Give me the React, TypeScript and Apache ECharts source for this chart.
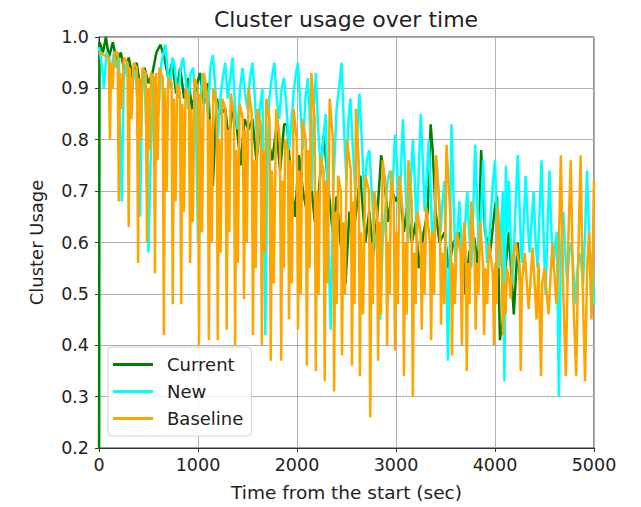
import React, { useEffect, useRef } from "react";
import * as echarts from "echarts";

const title = "Cluster usage over time";
const xName = "Time from the start (sec)";
const yName = "Cluster Usage";
const seriesNames = ["Current", "New", "Baseline"];
const seriesColors = ["#008000", "#00ffff", "#ffa500"];

const currentTimes = [
  0, 5, 40, 70, 100, 140, 180, 220, 260, 300, 340, 380, 420, 460, 500, 540, 580, 620, 660, 700,
  740, 780, 820, 860, 900, 940, 980, 1020, 1060, 1100, 1150, 1190, 1230, 1275, 1310, 1350, 1390, 1430, 1470, 1510,
  1550, 1590, 1630, 1670, 1710, 1750, 1790, 1830, 1870, 1900, 1940, 1980, 2020, 2060, 2100, 2140, 2180, 2220, 2270, 2320,
  2360, 2400, 2440, 2490, 2530, 2570, 2610, 2640, 2690, 2730, 2770, 2810, 2850, 2880, 2920, 2960, 3000, 3040, 3080, 3110,
  3160, 3200, 3230, 3280, 3320, 3350, 3370, 3400, 3440, 3490, 3530, 3580, 3640, 3690, 3700, 3740, 3790, 3830, 3860, 3900,
  3950, 4000, 4020, 4050, 4080, 4110, 4140, 4190, 4230, 4260,
];
const currentValues = [
  0.0, 0.99, 0.97, 1.0, 0.96, 0.99, 0.95, 0.97, 0.93, 0.96, 0.92, 0.95, 0.9, 0.94, 0.91, 0.93, 0.97, 0.985, 0.96, 0.92,
  0.95, 0.89, 0.94, 0.88, 0.92, 0.86, 0.9, 0.93, 0.87, 0.91, 0.71, 0.88, 0.85, 0.86, 0.8, 0.86, 0.83, 0.75, 0.84, 0.82,
  0.84, 0.76, 0.83, 0.72, 0.8, 0.76, 0.82, 0.74, 0.83, 0.83, 0.72, 0.65, 0.77, 0.7, 0.66, 0.72, 0.64, 0.7, 0.81, 0.7,
  0.62, 0.69, 0.6, 0.52, 0.66, 0.62, 0.68, 0.73, 0.6, 0.66, 0.58, 0.65, 0.77, 0.73, 0.64, 0.7, 0.68, 0.7, 0.62, 0.67,
  0.6, 0.64, 0.55, 0.62, 0.66, 0.83, 0.78, 0.66, 0.6, 0.62, 0.55, 0.6, 0.62, 0.57, 0.5, 0.58, 0.61, 0.55, 0.78, 0.62,
  0.58, 0.67, 0.69, 0.41, 0.45, 0.56, 0.62, 0.46, 0.6, 0.5,
];

const newTimes = [
  0, 25, 50, 75, 100, 125, 150, 175, 200, 215, 230, 250, 280, 305, 330, 350, 370, 395, 415, 435,
  460, 480, 500, 520, 550, 575, 600, 630, 670, 695, 720, 740, 760, 780, 800, 825, 850, 875, 900, 925,
  950, 975, 1000, 1025, 1050, 1075, 1100, 1125, 1150, 1175, 1200, 1225, 1250, 1275, 1300, 1325, 1350, 1375, 1400, 1425,
  1450, 1475, 1500, 1525, 1550, 1575, 1600, 1625, 1650, 1665, 1680, 1700, 1720, 1745, 1770, 1795, 1820, 1845, 1870, 1895,
  1920, 1945, 1970, 1990, 2010, 2035, 2060, 2085, 2110, 2130, 2150, 2170, 2190, 2215, 2240, 2265, 2290, 2315, 2340, 2365,
  2400, 2425, 2450, 2475, 2500, 2520, 2540, 2565, 2590, 2610, 2630, 2655, 2680, 2705, 2730, 2755, 2780, 2810, 2840, 2865,
  2890, 2915, 2940, 2965, 2990, 3010, 3030, 3050, 3070, 3095, 3120, 3145, 3170, 3190, 3210, 3230, 3250, 3270, 3290, 3310,
  3330, 3350, 3370, 3390, 3410, 3430, 3450, 3470, 3490, 3510, 3525, 3545, 3560, 3580, 3600, 3620, 3640, 3660, 3680, 3700,
  3720, 3740, 3760, 3780, 3800, 3820, 3840, 3860, 3880, 3900, 3920, 3940, 3960, 3980, 4000, 4020, 4040, 4060, 4080, 4095,
  4110, 4125, 4140, 4160, 4180, 4205, 4230, 4250, 4270, 4290, 4310, 4330, 4350, 4370, 4390, 4410, 4430, 4450, 4470, 4490,
  4510, 4530, 4550, 4570, 4590, 4610, 4625, 4645, 4665, 4690, 4710, 4730, 4750, 4770, 4790, 4810, 4830, 4850, 4870, 4890,
  4910, 4930, 4950, 4970, 4985, 5000,
];
const newValues = [
  0.98, 0.95, 0.9, 0.97, 0.96, 0.93, 0.97, 0.94, 0.96, 0.8, 0.68, 0.92, 0.95, 0.9, 0.88, 0.94, 0.93, 0.85, 0.65, 0.9,
  0.93, 0.8, 0.58, 0.75, 0.92, 0.9, 0.85, 0.95, 0.985, 0.93, 0.9, 0.96, 0.95, 0.91, 0.88, 0.94, 0.96, 0.92, 0.86, 0.93,
  0.94, 0.88, 0.6, 0.88, 0.93, 0.9, 0.85, 0.94, 0.965, 0.9, 0.8, 0.88, 0.92, 0.95, 0.88, 0.92, 0.96, 0.86, 0.82, 0.9,
  0.94, 0.89, 0.86, 0.92, 0.95, 0.88, 0.78, 0.86, 0.9, 0.7, 0.42, 0.74, 0.88, 0.92, 0.95, 0.88, 0.84, 0.9, 0.92, 0.86,
  0.78, 0.84, 0.9, 0.93, 0.95, 0.86, 0.78, 0.88, 0.92, 0.84, 0.7, 0.86, 0.93, 0.82, 0.74, 0.8, 0.85, 0.62, 0.43, 0.7,
  0.86, 0.9, 0.95, 0.82, 0.72, 0.84, 0.88, 0.78, 0.7, 0.82, 0.89, 0.8, 0.68, 0.76, 0.78, 0.7, 0.62, 0.58, 0.45, 0.6,
  0.66, 0.72, 0.74, 0.7, 0.81, 0.76, 0.65, 0.74, 0.84, 0.72, 0.6, 0.7, 0.8, 0.72, 0.62, 0.74, 0.85, 0.76, 0.66, 0.72,
  0.8, 0.7, 0.58, 0.66, 0.76, 0.7, 0.62, 0.68, 0.72, 0.52, 0.37, 0.6, 0.83, 0.7, 0.56, 0.62, 0.68, 0.6, 0.56, 0.64,
  0.7, 0.62, 0.55, 0.66, 0.79, 0.68, 0.58, 0.66, 0.76, 0.64, 0.56, 0.6, 0.66, 0.72, 0.76, 0.64, 0.55, 0.62, 0.7, 0.33,
  0.75, 0.62, 0.72, 0.6, 0.52, 0.66, 0.77, 0.66, 0.56, 0.64, 0.73, 0.64, 0.58, 0.64, 0.7, 0.6, 0.55, 0.66, 0.76, 0.62,
  0.5, 0.62, 0.74, 0.62, 0.55, 0.6, 0.62, 0.3, 0.58, 0.66, 0.58, 0.52, 0.58, 0.6, 0.55, 0.48, 0.54, 0.58, 0.56, 0.52,
  0.62, 0.74, 0.62, 0.5, 0.58, 0.48,
];

const baselineTimes = [
  0,
  98, 110, 122, 138, 155,
  188, 200, 212, 228, 250,
  288, 300, 312, 328, 350,
  383, 395, 407, 423, 440,
  473, 485, 497, 511, 525,
  553, 565, 577, 593, 610,
  643, 655, 667, 683, 700,
  733, 745, 757, 773, 790,
  818, 830, 842, 858, 875,
  908, 920, 932, 948, 965,
  998, 1010, 1022, 1040, 1060,
  1098, 1110, 1122, 1138, 1155,
  1188, 1200, 1212, 1228, 1245,
  1278, 1290, 1302, 1316, 1330,
  1363, 1375, 1387, 1403, 1420,
  1453, 1465, 1477, 1493, 1510,
  1543, 1555, 1567, 1583, 1600,
  1633, 1645, 1657, 1673, 1690,
  1723, 1735, 1747, 1765, 1790,
  1828, 1840, 1852, 1866, 1880,
  1908, 1920, 1932, 1948, 1965,
  1998, 2010, 2022, 2038, 2055,
  2088, 2100, 2112, 2128, 2145,
  2178, 2190, 2202, 2218, 2235,
  2268, 2280, 2292, 2310, 2330,
  2363, 2375, 2387, 2401, 2415,
  2443, 2455, 2467, 2485, 2505,
  2543, 2555, 2567, 2581, 2595,
  2623, 2635, 2647, 2667, 2690,
  2728, 2740, 2752, 2766, 2780,
  2808, 2820, 2832, 2848, 2865,
  2898, 2910, 2922, 2936, 2950,
  2978, 2990, 3002, 3018, 3035,
  3068, 3080, 3092, 3108, 3125,
  3158, 3170, 3182, 3198, 3215,
  3248, 3260, 3272, 3288, 3305,
  3343, 3355, 3367, 3385, 3405,
  3443, 3455, 3467, 3488, 3510,
  3553, 3565, 3577, 3595, 3615,
  3653, 3665, 3677, 3690,
  3703, 3715, 3727, 3743, 3760,
  3793, 3805, 3817, 3833, 3850,
  3878, 3890, 3902, 3920, 3940,
  3978, 3990, 4002, 4016, 4030,
  4068, 4080, 4092, 4106, 4120,
  4148, 4160, 4172, 4210, 4248, 4260, 4272, 4300, 4340, 4380,
  4420, 4440, 4465, 4477, 4500, 4540, 4580, 4620, 4640, 4665,
  4690, 4715, 4740, 4765, 4790, 4820, 4842, 4865, 4885, 4910,
  4930, 4950, 4975, 5000,
];
const baselineValues = [
  0.97,
  0.96, 0.8, 0.95, 0.9, 0.97,
  0.97, 0.68, 0.93, 0.86, 0.96,
  0.95, 0.63, 0.94, 0.84, 0.95,
  0.94, 0.56, 0.92, 0.8, 0.94,
  0.93, 0.6, 0.9, 0.78, 0.93,
  0.92, 0.54, 0.93, 0.76, 0.94,
  0.92, 0.42, 0.9, 0.7, 0.92,
  0.91, 0.48, 0.88, 0.68, 0.91,
  0.89, 0.48, 0.87, 0.66, 0.9,
  0.88, 0.56, 0.86, 0.64, 0.92,
  0.9, 0.4, 0.89, 0.62, 0.93,
  0.88, 0.41, 0.84, 0.6, 0.9,
  0.87, 0.41, 0.8, 0.58, 0.88,
  0.86, 0.43, 0.82, 0.62, 0.89,
  0.85, 0.4, 0.78, 0.56, 0.87,
  0.84, 0.49, 0.82, 0.6, 0.9,
  0.85, 0.42, 0.76, 0.55, 0.86,
  0.83, 0.4, 0.78, 0.58, 0.88,
  0.84, 0.37, 0.74, 0.52, 0.86,
  0.8, 0.37, 0.72, 0.55, 0.8,
  0.78, 0.45, 0.76, 0.52, 0.86,
  0.8, 0.43, 0.74, 0.5, 0.84,
  0.8, 0.36, 0.78, 0.55, 0.93,
  0.84, 0.35, 0.7, 0.5, 0.77,
  0.74, 0.33, 0.72, 0.52, 0.88,
  0.8, 0.31, 0.66, 0.48, 0.73,
  0.7, 0.38, 0.64, 0.5, 0.8,
  0.74, 0.36, 0.68, 0.48, 0.86,
  0.76, 0.34, 0.62, 0.46, 0.73,
  0.7, 0.26, 0.6, 0.48, 0.7,
  0.66, 0.37, 0.64, 0.46, 0.76,
  0.7, 0.4, 0.6, 0.5, 0.74,
  0.68, 0.39, 0.62, 0.48, 0.73,
  0.66, 0.34, 0.6, 0.46, 0.76,
  0.68, 0.3, 0.58, 0.48, 0.66,
  0.62, 0.43, 0.6, 0.5, 0.67,
  0.6, 0.41, 0.62, 0.5, 0.77,
  0.66, 0.44, 0.58, 0.48, 0.79,
  0.64, 0.38, 0.56, 0.48, 0.62,
  0.58, 0.4, 0.6, 0.64,
  0.58, 0.35, 0.56, 0.48, 0.68,
  0.58, 0.43, 0.56, 0.5, 0.64,
  0.56, 0.42, 0.55, 0.48, 0.6,
  0.54, 0.4, 0.56, 0.48, 0.67,
  0.55, 0.42, 0.52, 0.46, 0.55,
  0.52, 0.49, 0.56, 0.6, 0.55, 0.35, 0.52, 0.58, 0.47, 0.59,
  0.45, 0.56, 0.34, 0.52, 0.55, 0.46, 0.6, 0.48, 0.55, 0.77,
  0.5, 0.34, 0.6, 0.76, 0.5, 0.34, 0.58, 0.77, 0.52, 0.33,
  0.55, 0.62, 0.45, 0.72,
];

const xTicks = { min: 0, max: 5000, interval: 1000 };
const yTicks = { min: 0.2, max: 1.0, interval: 0.1 };

const zip = (t: number[], v: number[]) => t.map((x, i) => [x, v[i]]);

const FONT = "DejaVu Sans";

export default function App() {
  const ref = useRef<HTMLDivElement>(null);
  useEffect(() => {
    if (!ref.current) return;
    const chart = echarts.init(ref.current, null, { renderer: "svg" });
    const seriesData = [
      zip(currentTimes, currentValues),
      zip(newTimes, newValues),
      zip(baselineTimes, baselineValues),
    ];
    chart.setOption({
      animation: false,
      backgroundColor: "#ffffff",
      textStyle: { fontFamily: FONT },
      graphic: [
        {
          type: "text",
          x: 346,
          y: 19,
          style: {
            text: title,
            fontFamily: FONT,
            fontSize: 22,
            fill: "#222",
            textAlign: "center",
            textVerticalAlign: "middle",
          },
        },
      ],
      grid: {
        left: 99,
        right: 47,
        top: 37,
        bottom: 58,
        show: true,
        borderColor: "#333",
        borderWidth: 1,
        containLabel: false,
      },
      legend: {
        data: seriesNames,
        orient: "vertical",
        left: 108,
        top: 347,
        padding: [8, 8, 8, 5],
        itemGap: 8,
        itemWidth: 40,
        itemHeight: 3,
        icon: "rect",
        backgroundColor: "rgba(255,255,255,0.85)",
        borderColor: "#d0d0d0",
        borderWidth: 1,
        borderRadius: 4,
        textStyle: {
          fontFamily: FONT,
          fontSize: 18,
          color: "#222",
          lineHeight: 19,
          padding: [0, 0, 0, 9],
        },
      },
      xAxis: {
        type: "value",
        min: xTicks.min,
        max: xTicks.max,
        interval: xTicks.interval,
        name: xName,
        nameLocation: "middle",
        nameGap: 35,
        nameTextStyle: { fontFamily: FONT, fontSize: 18.5, color: "#222" },
        axisLine: { show: true, lineStyle: { color: "#333", width: 1 } },
        axisTick: { show: true, length: 4, lineStyle: { color: "#333" } },
        axisLabel: {
          fontFamily: FONT,
          fontSize: 17.5,
          color: "#222",
          margin: 8,
          formatter: (v: number) => String(v),
        },
        splitLine: { show: true, lineStyle: { color: "#b0b0b0", width: 1 } },
      },
      yAxis: {
        type: "value",
        min: yTicks.min,
        max: yTicks.max,
        interval: yTicks.interval,
        name: yName,
        nameLocation: "middle",
        nameGap: 54,
        nameTextStyle: { fontFamily: FONT, fontSize: 18, color: "#222" },
        axisLine: { show: true, lineStyle: { color: "#333", width: 1 } },
        axisTick: { show: true, length: 4, lineStyle: { color: "#333" } },
        axisLabel: {
          fontFamily: FONT,
          fontSize: 17.5,
          color: "#222",
          margin: 10,
          formatter: (v: number) => v.toFixed(1),
        },
        splitLine: { show: true, lineStyle: { color: "#b0b0b0", width: 1 } },
      },
      series: seriesNames.map((name, i) => ({
        name,
        type: "line",
        data: seriesData[i],
        showSymbol: false,
        symbol: "none",
        color: seriesColors[i],
        lineStyle: { color: seriesColors[i], width: 2.5 },
        z: 2 + i,
        clip: true,
      })),
    });
    return () => chart.dispose();
  }, []);
  return (
    <div
      ref={ref}
      style={{ position: "absolute", left: 0, top: 0, width: 641, height: 507 }}
    />
  );
}
